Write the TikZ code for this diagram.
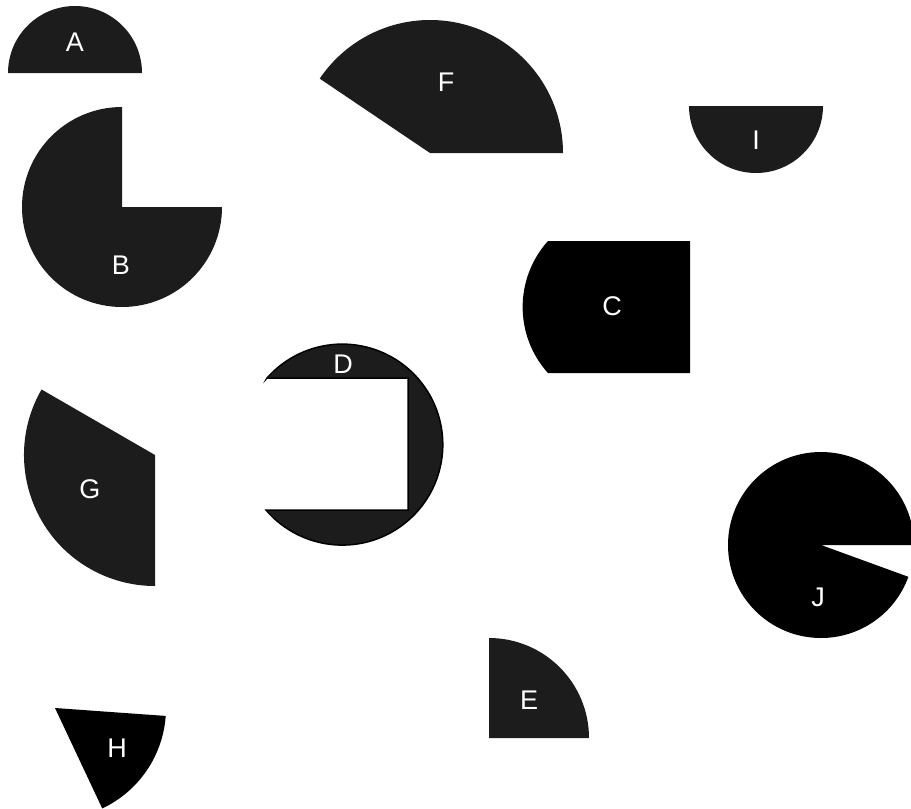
\documentclass[tikz,border=0pt]{standalone}
\usepackage{fontspec}
\setmainfont{Liberation Sans}
\definecolor{dg}{RGB}{28,28,28}
\tikzset{
  gshape/.style={fill=dg},
  bshape/.style={fill=black},
  lbl/.style={text=white, inner sep=0pt, font=\fontsize{27}{31}\selectfont}
}
\begin{document}
\begin{tikzpicture}[x=1pt,y=1pt]
\useasboundingbox (0,0) rectangle (911,-809);
% A
\fill[gshape] (8,-73) arc[start angle=180,end angle=0,radius=67] -- cycle;
% F
\fill[gshape] (430,-153) -- (563,-153) arc[start angle=0,end angle=146,radius=133] -- cycle;
% I
\fill[gshape] (689,-106) arc[start angle=180,end angle=360,radius=67] -- cycle;
% B
\fill[gshape] (122,-207) -- (122,-107) arc[start angle=90,end angle=360,radius=100] -- cycle;
% C
\fill[bshape] (548,-241) arc[start angle=138,end angle=222,radius=98.7] -- (690,-373) -- (690,-241) -- cycle;
% D
\filldraw[fill=dg, draw=black, line width=1.5pt] (267,-378) -- (408,-378) -- (408,-510) -- (266,-510) arc[start angle=220.6,end angle=498.6,radius=100.5] -- cycle;
% E
\fill[gshape] (489,-738) -- (589,-738) arc[start angle=0,end angle=90,radius=100] -- cycle;
% G
\fill[gshape] (155,-455) -- ++(150:131) arc[start angle=150,end angle=270,radius=131] -- cycle;
% H
\fill[bshape] (55,-708) -- ++(-64.8:111) arc[start angle=-64.8,end angle=-4.1,radius=111] -- cycle;
% J
\fill[bshape] (821,-545) -- ++(0:93) arc[start angle=0,end angle=340,radius=93] -- cycle;
% labels
\node[lbl] (la) at (75,-42) {A};
\node[lbl] (lb) at (121,-265) {B};
\node[lbl] (lc) at (612,-306) {C};
\node[lbl] (ld) at (343,-364) {D};
\node[lbl] (le) at (529,-700) {E};
\node[lbl] (lf) at (446,-82) {F};
\node[lbl] (lg) at (90,-489) {G};
\node[lbl] (lh) at (117,-748) {H};
\node[lbl] (li) at (756,-140) {I};
\node[lbl] (lj) at (818,-597) {J};
\end{tikzpicture}
\end{document}
